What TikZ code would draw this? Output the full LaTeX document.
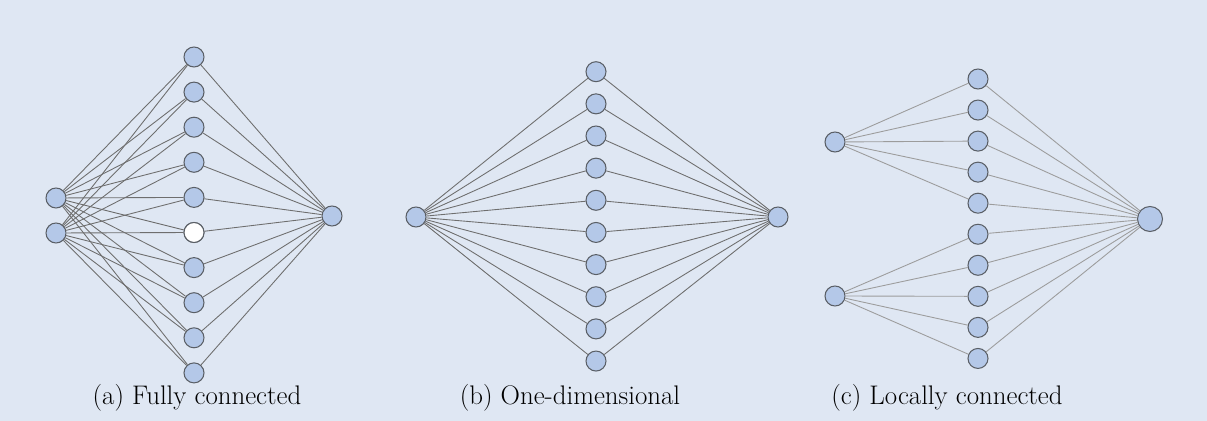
\documentclass[tikz,border=0pt]{standalone}
\usepackage{tikz}
\usetikzlibrary{positioning}
\definecolor{panelbg}{HTML}{DFE7F3}
\definecolor{unitfill}{HTML}{B4C8E8}
\definecolor{unitline}{HTML}{5A5F66}
\definecolor{edgeline}{HTML}{6E6E6E}
\definecolor{edgelight}{HTML}{9C9C9C}

\begin{document}
\begin{tikzpicture}[
    x=0.02cm, y=-0.02cm,
    unit/.style={circle, draw=unitline, fill=unitfill, line width=0.6pt,
      inner sep=0pt, minimum size=0.4cm},
    link/.style={draw=edgeline, line width=0.5pt},
    linklt/.style={draw=edgelight, line width=0.5pt},
    capt/.style={font=\fontsize{15.3}{18}\selectfont, anchor=base}]
\fill[panelbg] (0,0) rectangle (1207,421);
\useasboundingbox (0,0) rectangle (1207,421);

% --- (a) Fully connected ---
\node[unit](aIn1) at (56,198) {};
\node[unit](aIn2) at (56,233) {};
\node[unit](aOut) at (332,216) {};
\foreach \i in {1,...,10}{
  \node[unit](aH\i) at (194,{57+35.1*(\i-1)}) {};}
\node[unit, fill=white](aH6) at (194,{57+35.1*5}) {};
\foreach \i in {1,...,10}{
  \draw[link](aIn1) -- (aH\i);
  \draw[link](aIn2) -- (aH\i);
  \draw[link](aH\i) -- (aOut);}
\node[capt](capA) at (197,405) {(a) Fully connected};

% --- (b) One-dimensional ---
\node[unit](bIn) at (416,217) {};
\node[unit](bOut) at (778,217) {};
\foreach \i in {1,...,10}{
  \node[unit](bH\i) at (596,{71.7+32.15*(\i-1)}) {};
  \draw[link](bIn) -- (bH\i);
  \draw[link](bH\i) -- (bOut);}
\node[capt](capB) at (570,405) {(b) One-dimensional};

% --- (c) Locally connected ---
\node[unit](cIn1) at (835,142) {};
\node[unit](cIn2) at (835,296) {};
\node[unit, minimum size=0.5cm](cOut) at (1150,219) {};
\foreach \i in {1,...,10}{
  \node[unit](cH\i) at (978,{79+31.05*(\i-1)}) {};
  \draw[linklt](cH\i) -- (cOut);}
\foreach \i in {1,...,5}{\draw[linklt](cIn1) -- (cH\i);}
\foreach \i in {6,...,10}{\draw[linklt](cIn2) -- (cH\i);}
\node[capt](capC) at (947,405) {(c) Locally connected};
\end{tikzpicture}
\end{document}
